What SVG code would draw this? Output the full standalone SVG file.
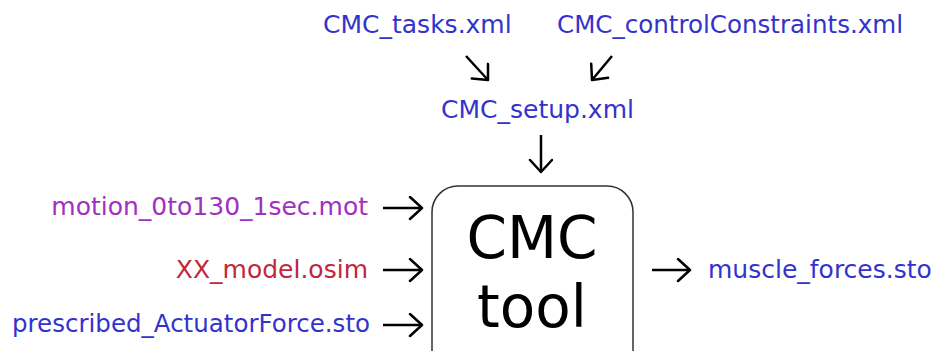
<svg xmlns="http://www.w3.org/2000/svg" width="931" height="351" viewBox="0 0 931 351">
<style>
text{font-family:"DejaVu Sans","Verdana",sans-serif;font-size:25px}
.blue{fill:#3333cc}
.purple{fill:#a030c0}
.red{fill:#c0283c}
.big{font-size:58px;fill:#000}
.conn{stroke:#000;stroke-width:2.5;fill:none}
</style>
<defs>
<marker id="ah" markerWidth="18" markerHeight="26" refX="15" refY="12" orient="auto" markerUnits="userSpaceOnUse">
<path d="M3,1 L15,12 L3,23" fill="none" stroke="#000" stroke-width="2.5" stroke-linecap="round" stroke-linejoin="round"/>
</marker>
</defs>
<g id="tasks"><text class="blue" x="323" y="33">CMC_tasks.xml</text></g>
<g id="constraints"><text class="blue" x="557" y="33" textLength="346" lengthAdjust="spacingAndGlyphs">CMC_controlConstraints.xml</text></g>
<g id="setup"><text class="blue" x="441" y="118">CMC_setup.xml</text></g>
<g id="motion"><text class="purple" x="368" y="215" text-anchor="end">motion_0to130_1sec.mot</text></g>
<g id="model"><text class="red" x="368" y="278" text-anchor="end">XX_model.osim</text></g>
<g id="prescribed"><text class="blue" x="12" y="332" textLength="358" lengthAdjust="spacingAndGlyphs">prescribed_ActuatorForce.sto</text></g>
<g id="cmc">
<rect x="432" y="186" width="201" height="190" rx="26" ry="26" fill="#fff" stroke="#333" stroke-width="1.5"/>
<text class="big" x="532" y="258" text-anchor="middle">CMC</text>
<text class="big" x="532" y="327" text-anchor="middle">tool</text>
</g>
<g id="output"><text class="blue" x="708" y="278">muscle_forces.sto</text></g>
<g id="connectors">
<path class="conn" d="M466,56 L488,80" marker-end="url(#ah)"/>
<path class="conn" d="M612,56 L592,80" marker-end="url(#ah)"/>
<path class="conn" d="M541,135 L541,172" marker-end="url(#ah)"/>
<path class="conn" d="M383,208 L422,208" marker-end="url(#ah)"/>
<path class="conn" d="M383,270 L422,270" marker-end="url(#ah)"/>
<path class="conn" d="M383,325 L422,325" marker-end="url(#ah)"/>
<path class="conn" d="M652,270 L690,270" marker-end="url(#ah)"/>
</g>
</svg>
